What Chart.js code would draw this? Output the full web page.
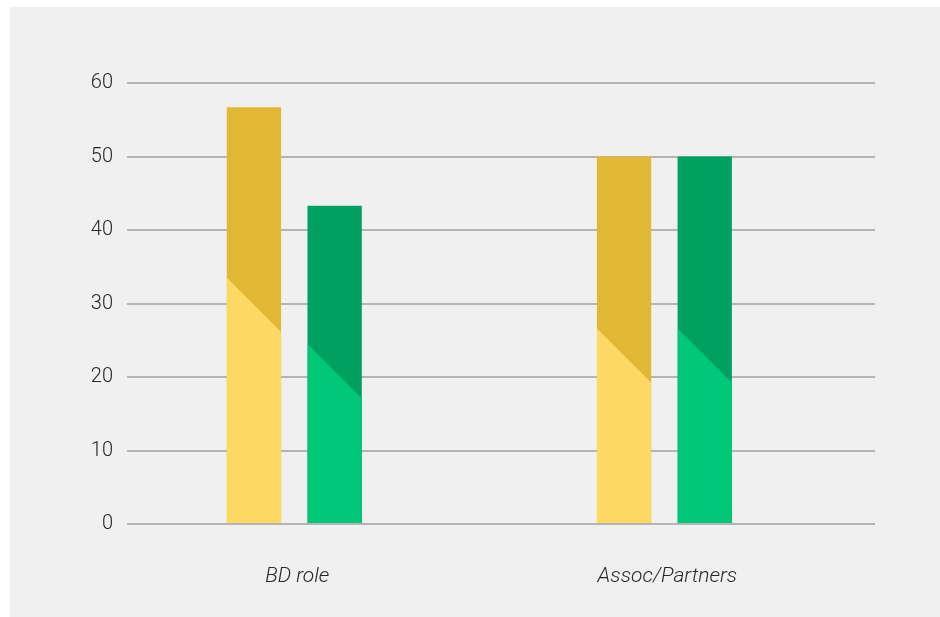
<!DOCTYPE html>
<html>
<head>
<meta charset="utf-8">
<script src="https://cdn.jsdelivr.net/npm/chart.js@4/dist/chart.umd.min.js"></script>
<style>
  html, body { margin: 0; padding: 0; background: #ffffff; }
  #panel { position: absolute; left: 10px; top: 7px; width: 930px; height: 610px; background: #f0f0f0; }
  canvas { display: block; }
</style>
</head>
<body>
<div id="panel"><canvas id="c" width="930" height="610"></canvas></div>
<script>
// ---- data ----
const categories = ['BD role', 'Assoc/Partners'];
const yellowValues = [56.7, 50];
const greenValues = [43.3, 50];
// value at the middle of the diagonal split between light (lower) and dark (upper) parts
const yellowSplit = [29.8, 22.9];
const greenSplit = [20.8, 22.9];
const yTicks = [0, 10, 20, 30, 40, 50, 60];

const splits = [yellowSplit, greenSplit];
const lightColors = ['#fdd862', '#00c878'];
const darkColors = ['#e1b833', '#00a061'];

const diagonalPlugin = {
  id: 'diagonal',
  afterDatasetsDraw(chart) {
    const ctx = chart.ctx;
    const yScale = chart.scales.y;
    chart.data.datasets.forEach((ds, di) => {
      const meta = chart.getDatasetMeta(di);
      meta.data.forEach((el, j) => {
        const p = el.getProps(['x', 'y', 'base', 'width'], true);
        const left = p.x - p.width / 2, right = p.x + p.width / 2;
        const top = Math.min(p.y, p.base), bottom = Math.max(p.y, p.base);
        const ys = yScale.getPixelForValue(splits[di][j]);
        const half = p.width / 2;
        ctx.save();
        ctx.beginPath();
        ctx.rect(left, top, p.width, bottom - top);
        ctx.clip();
        ctx.beginPath();
        ctx.moveTo(left, ys - half);
        ctx.lineTo(right, ys + half);
        ctx.lineTo(right, bottom);
        ctx.lineTo(left, bottom);
        ctx.closePath();
        ctx.fillStyle = lightColors[di];
        ctx.fill();
        ctx.restore();
      });
    });
  }
};

new Chart(document.getElementById('c'), {
  type: 'bar',
  data: {
    datasets: [
      { label: 'Yellow', data: yellowValues.map((v, i) => ({ x: i, y: v })), backgroundColor: darkColors[0], borderWidth: 0 },
      { label: 'Green', data: greenValues.map((v, i) => ({ x: i, y: v })), backgroundColor: darkColors[1], borderWidth: 0 }
    ]
  },
  options: {
    responsive: false,
    animation: false,
    devicePixelRatio: 1,
    categoryPercentage: 0.436,
    barPercentage: 0.673,
    layout: { padding: { top: 76, left: 0, right: 65, bottom: 0 } },
    plugins: { legend: { display: false }, tooltip: { enabled: false } },
    scales: {
      x: {
        type: 'linear',
        offset: false,
        min: -0.452,
        max: 1.569,
        afterBuildTicks: (s) => { s.ticks = categories.map((c, i) => ({ value: i })); },
        afterFit: (s) => { s.height = 93; },
        grid: { display: false },
        border: { display: false },
        ticks: {
          callback: (v) => categories[v],
          maxRotation: 0,
          autoSkip: false,
          padding: 32,
          labelOffset: 3,
          color: '#262626',
          font: { family: 'Roboto', size: 21, style: 'italic', weight: 300 }
        }
      },
      y: {
        min: 0,
        max: 60,
        afterBuildTicks: (s) => { s.ticks = yTicks.map(v => ({ value: v })); },
        afterFit: (s) => { s.width = 117; },
        grid: { color: '#b8b3b3', lineWidth: 2, drawTicks: false },
        border: { display: false },
        ticks: {
          padding: 14,
          color: '#262626',
          font: { family: 'Roboto', size: 20, weight: 300 }
        }
      }
    }
  },
  plugins: [diagonalPlugin]
});
</script>
</body>
</html>
